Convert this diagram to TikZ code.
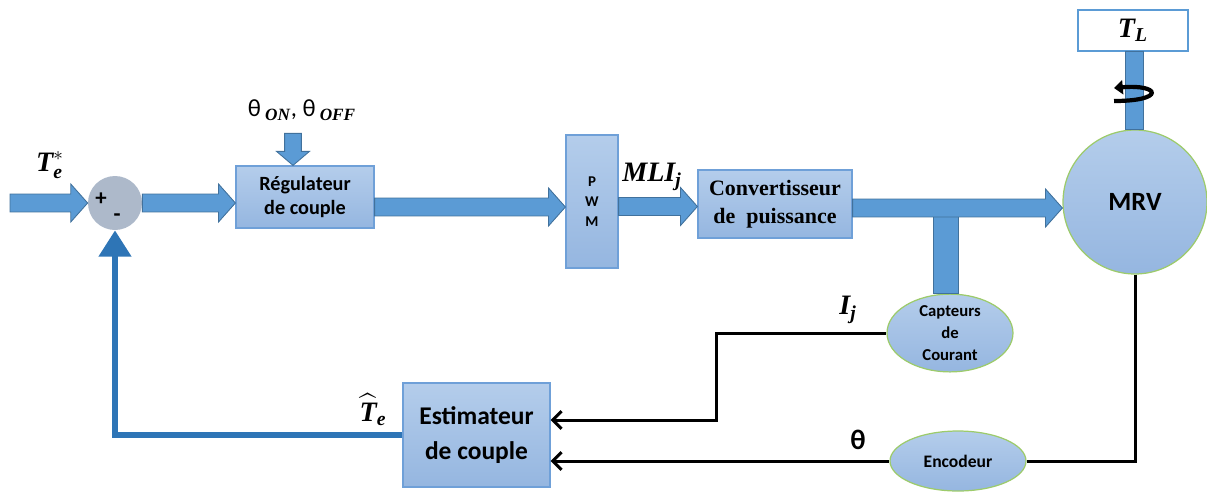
\documentclass[tikz,border=0pt]{standalone}
\usepackage{amsmath}
\usepackage{fontspec}
\setsansfont{Carlito}
\newfontfamily\cambria{Liberation Serif}
\usetikzlibrary{shapes.geometric,arrows.meta,calc}

\definecolor{boxtop}{HTML}{B4CDEB}
\definecolor{boxbot}{HTML}{95B6E0}
\definecolor{boxline}{HTML}{6FA0D8}
\definecolor{blobline}{HTML}{9DCB6B}
\definecolor{arrfill}{HTML}{5B9BD5}
\definecolor{arrline}{HTML}{41719C}
\definecolor{sumfill}{HTML}{ADB9CA}
\definecolor{fbline}{HTML}{2E75B6}

% bold italic serif letters for the signal names
\newcommand\bi[1]{\text{\cambria\bfseries\itshape #1}}

% horizontal block arrow: from #1 to the x of #2
\newcommand\hblock[2]{%
  \path[blockarrow] let \p1=(#1), \p2=(#2) in
    (\x1,\y1+5.1pt) -- (\x2-9.6pt,\y1+5.1pt) -- (\x2-9.6pt,\y1+10.8pt)
    -- (\x2,\y1) -- (\x2-9.6pt,\y1-10.8pt) -- (\x2-9.6pt,\y1-5.1pt)
    -- (\x1,\y1-5.1pt) -- cycle;}
% downward block arrow: from #1 to the y of #2
\newcommand\vblock[2]{%
  \path[blockarrow] let \p1=(#1), \p2=(#2) in
    (\x1-4.8pt,\y1) -- (\x1-4.8pt,\y2+8pt) -- (\x1-9.4pt,\y2+8pt)
    -- (\x1,\y2) -- (\x1+9.4pt,\y2+8pt) -- (\x1+4.8pt,\y2+8pt)
    -- (\x1+4.8pt,\y1) -- cycle;}

\begin{document}
\begin{tikzpicture}[
  x=0.02cm, y=-0.02cm,
  box/.style={draw=boxline, line width=0.7pt, top color=boxtop,
              bottom color=boxbot, align=center, inner sep=1pt,
              font=\sffamily\bfseries},
  blob/.style={ellipse, draw=blobline, line width=0.7pt, top color=boxtop,
               bottom color=boxbot, align=center, inner sep=0pt,
               font=\sffamily\bfseries},
  blockarrow/.style={fill=arrfill, draw=arrline, line width=0.5pt},
  sig/.style={line width=1.7pt, -{Straight Barb[length=5pt,width=10pt]}},
  lbl/.style={font=\fontsize{16}{18}\selectfont, inner sep=1pt},
]
\useasboundingbox (0,0) rectangle (1207,491);

% ---------------- blocks ----------------
\node[circle, fill=sumfill, minimum size=1.08cm, inner sep=0pt] (sum) at (115,203) {};
\node[font=\sffamily\bfseries\fontsize{13}{13}\selectfont] (plus) at (101,199) {+};
\node[font=\sffamily\bfseries\fontsize{13}{13}\selectfont] (minus) at (117,218) {-};

\node[box, minimum width=2.76cm, minimum height=1.24cm,
      font=\sffamily\bfseries\fontsize{11.5}{14}\selectfont] (reg) at (305,197)
  {Régulateur\\de couple};
\node[box, minimum width=1.04cm, minimum height=2.66cm,
      font=\sffamily\bfseries\fontsize{8.5}{11.5}\selectfont] (pwm) at (592,201.5)
  {P\\W\\M};
\node[box, minimum width=3.08cm, minimum height=1.36cm,
      font=\cambria\bfseries\fontsize{12.5}{16}\selectfont] (conv) at (775,204)
  {Convertisseur\\de~ puissance};
\node[box, minimum width=2.94cm, minimum height=2.08cm,
      font=\sffamily\bfseries\fontsize{14.5}{20}\selectfont] (est) at (476.5,435)
  {Estimateur\\de couple};

\node[circle, draw=blobline, line width=0.7pt, top color=boxtop, bottom color=boxbot,
      minimum size=2.88cm, inner sep=0pt,
      font=\sffamily\bfseries\fontsize{15}{18}\selectfont] (mrv) at (1135,202) {MRV};
\node[draw=arrfill, line width=0.7pt, fill=white, minimum width=2.2cm,
      minimum height=0.82cm, lbl] (tl) at (1133,30.5) {$\bi{T}_{\bi{L}}$};

\node[blob, minimum width=2.52cm, minimum height=1.48cm,
      font=\sffamily\bfseries\fontsize{9.5}{12.5}\selectfont] (capt) at (950,333)
  {Capteurs\\de\\Courant};
\node[blob, minimum width=2.72cm, minimum height=1.2cm,
      font=\sffamily\bfseries\fontsize{10}{12}\selectfont] (enc) at (958,461) {Encodeur};
% current sensor tap
\draw[blockarrow] ($(capt.north)+(-17,0)$) rectangle ++(25,-79);

% ---------------- forward path ----------------
\coordinate (in) at (10,203);
\hblock{in}{sum.west}
\hblock{sum.east}{reg.west}
\hblock{$(reg.east)+(0,10)$}{pwm.west}
\hblock{$(pwm.east)+(0,5)$}{conv.west}
\hblock{$(conv.east)+(0,4)$}{mrv.west}
\vblock{$(reg.north)+(-12,-32)$}{reg.north}

% shaft and load torque
\draw[blockarrow] ($(tl.south)+(-8,0)$) rectangle ($(mrv.north)+(8,0)$);
\draw[line width=2.4pt, -{Triangle[length=5pt,width=8pt]}]
  (1114,101) .. controls (1166,101) and (1160,84) .. (1114,88);

% ---------------- feedback ----------------
\draw[sig] (capt.west) -- ++(-170,0) |- ($(est.east)+(0,-15)$);
\draw[line width=1.7pt] (mrv.south) |- (enc.east);
\draw[sig] (enc.west) -- (est.east |- enc.west);
\draw[fbline, line width=3.4pt, -{Triangle[length=15pt,width=18pt]}]
  (est.west) -| (sum.south);

% ---------------- labels ----------------
\node[lbl] (tref) at (50,165) {$\bi{T}^{*}_{\bi{e}}$};
\node[font=\sffamily\fontsize{14}{16}\selectfont] (thon) at (302,110)
  {θ\,$_{\bi{ON}}$,~θ\,$_{\bi{OFF}}$};
\node[lbl] (mli) at (652,177) {$\bi{MLI}_{\bi{j}}$};
\node[lbl] (ij) at (848,310) {$\bi{I}_{\bi{j}}$};
\node[font=\sffamily\bfseries\fontsize{16}{18}\selectfont] (th) at (858,440) {θ};
\node[lbl] (test) at (373,410) {$\widehat{\bi{T}}_{\bi{e}}$};

\end{tikzpicture}
\end{document}
